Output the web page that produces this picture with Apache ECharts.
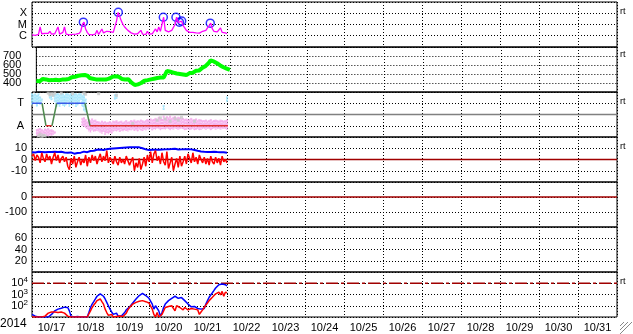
<!DOCTYPE html>
<html><head><meta charset="utf-8">
<script src="https://cdn.jsdelivr.net/npm/echarts/dist/echarts.min.js"></script>
<style>html,body{margin:0;padding:0;background:#fff}#c{width:633px;height:334px}</style>
</head><body><div id="c"></div><script>
// ---- data (hourly from 2014-10-17 00:00 UT) ----
const dateLabels = ['10/17','10/18','10/19','10/20','10/21','10/22','10/23','10/24','10/25','10/26','10/27','10/28','10/29','10/30','10/31'];
const yearLabel = '2014';
const xrayFlux = [1.2e-6,1.3e-6,1.1e-6,1.4e-6,1.3e-6,6e-6,1.5e-6,1.3e-6,1.6e-6,1.4e-6,
 1.6e-6,2.5e-6,1.4e-6,1.3e-6,1.5e-6,1.3e-6,6e-6,1.4e-6,1.5e-6,2e-6,
 6e-6,1.4e-6,1.3e-6,1.2e-6,1.4e-6,1.3e-6,1.5e-6,1.4e-6,1.3e-6,1.6e-6,
 2.5e-6,1e-5,1.6e-5,4e-6,2e-6,1.3e-6,1.1e-6,1.2e-6,1.1e-6,1.4e-6,
 3e-6,1.3e-6,1.5e-6,4e-6,1.8e-6,2.2e-6,2.5e-6,2e-6,2.3e-6,1.8e-6,
 2e-6,3e-6,2e-5,1.2e-4,5e-5,2e-5,1e-5,6e-6,4e-6,3e-6,
 2.2e-6,1.8e-6,1.5e-6,1.4e-6,1.3e-6,1.5e-6,1.3e-6,3e-6,1.4e-6,1.5e-6,
 1.3e-6,2.5e-6,1.4e-6,1.6e-6,1.5e-6,2e-6,4e-6,2.2e-6,6e-6,2.5e-6,
 2.8e-6,4.4e-5,3e-6,2.5e-6,2.2e-6,2.5e-6,3e-6,4e-6,1e-5,4.4e-5,
 1.5e-5,1.6e-5,2e-5,8e-6,5e-6,3e-6,2.5e-6,2e-6,1.8e-6,2e-6,
 1.6e-6,1.8e-6,2.2e-6,1.7e-6,2e-6,2.5e-6,2.2e-6,3e-6,5e-6,8e-6,
 1.3e-5,4e-6,2.5e-6,2e-6,2.2e-6,1.8e-6,5e-6,2e-6,1.6e-6,1.8e-6,
 1.5e-6];
const flareHours = [31.6, 53.1, 80.8, 88.6, 90.7, 92.1, 109.7];
const flarePeaks = [1.6e-5, 1.2e-4, 4.4e-5, 4.4e-5, 1.6e-5, 2.0e-5, 1.3e-5];
const windSpeed = [425,440,418,432,445,428,440,436,430,445,
 432,440,436,444,430,442,438,450,440,455,
 445,452,465,458,470,462,480,468,485,472,
 490,470,478,455,460,448,445,440,448,438,
 443,440,445,438,450,448,455,468,462,475,
 458,470,452,445,448,440,450,442,430,405,
 390,378,372,385,380,400,415,425,420,432,
 428,440,435,448,442,455,450,460,455,462,
 470,535,540,525,528,515,520,505,512,500,
 508,495,505,488,500,510,520,515,528,535,
 545,540,555,570,575,590,610,625,650,670,
 640,655,620,600,595,585,575,565,560,555,
 545];
// IMF sector: 1 = T (toward), -1 = A (away)
const sectorHours = [0, 6.2, 8.6, 12.3, 15.2, 32.6, 35.7, 120.6];
const sectorVals  = [1, 1, -1, -1, 1, 1, -1, -1];
const tCloudHours = [0,1,2,3,4,5,6,11,12,13,14,15,16,17,18,19,20,21,22,23,24,25,26,27,28,29,30,31,32,33,51,52,81,120];
const tCloudHi = [1.88,1.79,1.88,1.73,1.88,1.6,1.42,1.88,1.73,1.88,1.79,1.88,1.88,1.79,1.88,1.88,1.73,1.88,1.88,1.79,1.88,1.73,1.88,1.88,1.79,1.88,1.88,1.73,1.88,1.42,1.8,1.85,0.85,1.6];
const tCloudLo = [0.82,0.97,1.12,0.67,0.97,0.88,1.12,1.42,1.27,1.58,1.12,0.67,0.82,0.67,0.97,0.76,0.67,0.82,1.12,0.67,0.97,0.82,1.12,0.67,0.82,0.97,1.27,0.67,0.3,0.2,1.3,1.4,0.4,1.1];
const aCloudHours = [3,4,5,6,7,8,9,10,11,12,13,14,31,32,33,34,
 35,36,37,38,39,40,41,42,43,44,45,46,47,48,49,50,51,52,53,54,55,56,57,58,59,60,
 61,62,63,64,65,66,67,68,69,70,71,72,73,74,75,76,77,78,79,80,81,82,83,84,85,86,87,88,89,90,
 91,92,93,94,95,96,97,98,99,100,101,102,103,104,105,106,107,108,109,110,111,112,113,114,115,116,117,118,119,120];
const aCloudHi = [-1.3,-1.25,-1.2,-1.3,-1.4,-1.25,-1.3,-1.2,-1.35,-1.3,-1.4,-1.5,-0.3,-0.25,-0.4,-0.6,
 -0.4,-0.5,-0.35,-0.5,-0.45,-0.6,
 -0.6,-0.7,-0.55,-0.65,-0.6,-0.7,-0.65,-0.6,-0.7,-0.55,
 -0.6,-0.5,-0.65,-0.6,-0.55,-0.7,-0.6,-0.5,-0.65,-0.6,
 -0.5,-0.55,-0.45,-0.6,-0.5,-0.55,-0.45,-0.5,-0.6,-0.5,
 -0.4,-0.5,-0.35,-0.45,-0.4,-0.3,-0.45,-0.2,-0.35,-0.4,
 -0.1,-0.3,-0.15,-0.25,-0.1,-0.3,-0.2,-0.15,-0.3,-0.2,-0.25,-0.35,-0.3,
 -0.4,-0.35,-0.45,-0.4,-0.3,-0.45,-0.4,-0.35,-0.5,-0.4,-0.45,-0.5,
 -0.5,-0.45,-0.55,-0.5,-0.4,-0.55,-0.5,-0.45,-0.5,-0.55,-0.45,-0.5,-0.55,-0.5,-0.45];
const aCloudLo = [-1.9,-1.95,-1.85,-1.9,-1.95,-1.8,-1.9,-1.95,-1.85,-1.9,-1.8,-1.7,-1.0,-1.1,-1.2,-1.3,
 -1.5,-1.6,-1.4,-1.55,-1.5,-1.45,
 -1.5,-1.6,-1.7,-1.55,-1.8,-1.65,-1.75,-1.6,-1.7,-1.5,
 -1.45,-1.5,-1.4,-1.55,-1.45,-1.5,-1.4,-1.45,-1.5,-1.4,
 -1.4,-1.35,-1.45,-1.4,-1.5,-1.35,-1.4,-1.45,-1.35,-1.4,
 -1.3,-1.35,-1.25,-1.4,-1.3,-1.35,-1.25,-1.3,-1.4,-1.3,
 -1.3,-1.35,-1.25,-1.3,-1.4,-1.3,-1.35,-1.25,-1.3,-1.35,-1.3,-1.25,-1.3,
 -1.4,-1.35,-1.3,-1.4,-1.35,-1.3,-1.4,-1.35,-1.3,-1.4,-1.35,-1.3,
 -1.3,-1.35,-1.25,-1.3,-1.4,-1.3,-1.25,-1.35,-1.3,-1.25,-1.35,-1.3,-1.25,-1.3,-1.35];
const grayHours = [4,5,6,7,8,10,11,12,13,14,18,25,32,33,41,52,62,77,79,82,85,88,90,92,100];
const grayVals  = [-1.9,-1.75,-1.95,-1.85,-1.9,1.9,1.75,1.85,1.7,1.9,1.9,1.85,1.9,1.8,1.85,1.7,-0.8,-0.5,-0.3,-0.4,-0.6,-0.35,-0.5,-0.25,-0.6];
const imfBt = [6.5,6.8,6.3,6.6,6.9,6.4,6.7,6.2,6.5,6.8,6.6,6.3,6.7,6.5,6.9,6.4,6.6,6.2,6.8,6.5,
 6.2,5.8,6.0,5.5,6.3,5.7,5.2,6.0,5.8,6.4,6.1,6.6,7.0,6.8,6.5,
 7.2,7.6,8.0,7.8,8.3,8.6,8.2,8.8,9.0,8.5,8.9,9.2,9.0,9.5,
 9.3,9.8,9.6,10.0,9.7,10.2,9.9,10.4,10.1,10.6,10.3,10.8,
 10.5,11.0,10.7,10.9,11.2,10.8,10.4,10.0,9.5,9.0,
 8.8,8.5,8.9,8.6,8.2,8.7,9.0,8.6,9.1,8.8,9.3,
 9.0,9.4,9.2,9.6,9.3,9.0,9.5,9.2,8.9,9.3,9.0,8.8,
 9.1,8.9,9.2,8.8,9.0,8.6,8.4,8.0,7.7,7.5,7.2,7.0,
 6.8,7.0,6.6,6.9,6.7,6.5,6.8,6.4,6.6,6.3,6.5,6.2,6.4,6.1,6.0];
const imfBz = [3,5,-1,4,2,-3,6,1,-2,5,0,3,-4,2,6,-1,4,-3,1,3,
 -2,2,-6,-9,1,-4,3,-7,-2,2,-5,0,-3,4,-6,
 2,-3,4,-1,3,-4,1,5,-2,3,-1,8,-3,2,
 1,-4,3,-2,-5,2,-3,0,-4,3,-1,-5,
 -6,2,-10,-3,-7,1,-9,-4,2,-6,
 4,-2,7,-3,5,8,-1,3,-4,6,-2,
 -5,7,-8,-3,2,-10,-4,1,-7,3,-6,-2,
 3,-4,5,1,-3,6,-2,2,-4,4,0,-3,
 2,-4,1,-5,3,-2,-4,2,-3,1,-5,3,-2,0,-3];
const fluxHigh = [17,15,12,11,10,10,10,10,10,10,
 10,12,17,25,35,43,50,57,60,70,
 75,75,70,35,12,10,10,10,11,10,
 10,11,10,10,10,25,70,140,230,400,
 700,930,1150,930,700,400,200,100,50,28,
 17,14,22,12,17,12,14,25,43,57,
 75,115,175,265,400,570,810,1070,1230,1070,
 810,570,460,350,140,50,100,140,35,12,
 25,70,140,200,285,350,460,570,700,570,
 460,400,530,400,285,200,140,100,80,100,
 87,75,57,70,50,43,57,140,285,570,
 810,1430,2300,3800,5700,7500,8100,8700,6600,7500,
 5700];
const fluxLow = [10,10,10,10,10,10,10,10,12,17,
 22,25,28,25,28,32,25,35,28,25,
 22,17,12,10,10,10,10,10,10,10,
 10,10,10,10,10,14,35,70,115,175,
 285,350,400,230,140,50,25,14,11,17,
 10,12,11,10,12,10,11,12,22,43,
 70,100,140,175,200,230,250,265,285,265,
 230,200,175,140,50,17,10,25,10,12,
 17,35,70,100,87,115,100,140,35,100,
 115,70,100,43,70,57,43,50,57,43,
 50,35,43,17,28,43,70,115,175,285,
 400,570,810,1150,1430,1600,930,1900,700,1600,
 1430];
const fluxAlert = 10000;
const refZero = 0;

// ---- layout ----
const FONT = '"Liberation Sans", Arial, sans-serif';
const PANELS = 7, LEFT = 32, WIDTH = 585, TOP = 2, PH = 45;
const hourly = arr => arr.map((v, i) => [i, v]);
const dot = {color:'#000', type:[1,2], width:1};

const grids = [], xAxes = [], yAxes = [];
for (let i = 0; i < PANELS; i++) {
  grids.push({left: LEFT, width: WIDTH, top: TOP + PH * i, height: PH, show: true, borderColor: '#000', borderWidth: 1, backgroundColor: 'transparent'});
  xAxes.push({gridIndex: i, type: 'value', min: 0, max: 360, interval: 24,
    axisLine: {show: false}, axisTick: {show: false}, axisLabel: {show: false},
    splitLine: {show: true, lineStyle: dot}});
}
xAxes.push({gridIndex: 6, type: 'category', data: dateLabels, boundaryGap: true, position: 'bottom',
  axisLine: {show: false}, axisTick: {show: false}, splitLine: {show: false},
  axisLabel: {interval: 0, color: '#000', fontSize: 11, fontFamily: FONT, margin: 5}});

const yBase = (i, extra) => Object.assign({gridIndex: i, axisLine: {show: false}, axisTick: {show: false},
  splitLine: {show: true, lineStyle: dot}}, extra);
const lbl = (fmt, margin) => ({color: '#000', fontSize: 11, fontFamily: FONT, margin: margin || 5, formatter: fmt, showMinLabel: true, showMaxLabel: true});
const exp10 = v => Math.round(Math.log10(v));

yAxes.push(yBase(0, {type: 'log', logBase: 10, min: 1e-7, max: 1e-3,
  axisLabel: lbl(v => ({'-4': 'X', '-5': 'M', '-6': 'C'})[exp10(v)] || '')}));
yAxes.push(yBase(1, {type: 'value', min: 300, max: 800, interval: 100,
  axisLabel: lbl(v => (v >= 400 && v <= 700) ? String(v) : '', 15)}));
yAxes.push(yBase(2, {type: 'value', min: -2, max: 2, interval: 1,
  axisLabel: lbl(v => v === 1 ? 'T' : (v === -1 ? 'A' : ''), 8)}));
yAxes.push(yBase(3, {type: 'value', min: -20, max: 20, interval: 10,
  axisLabel: lbl(v => Math.abs(v) <= 10 ? String(v) : '')}));
yAxes.push(yBase(4, {type: 'value', min: -200, max: 100, interval: 100,
  axisLabel: lbl(v => (v === 0 || v === -100) ? String(v) : '')}));
yAxes.push(yBase(5, {type: 'value', min: 0, max: 80, interval: 20,
  axisLabel: lbl(v => (v >= 20 && v <= 60) ? String(v) : '')}));
yAxes.push(yBase(6, {type: 'log', logBase: 10, min: 10, max: 1e5,
  axisLabel: Object.assign(lbl(v => { const e = exp10(v); return (e >= 2 && e <= 4) ? '10{s|' + e + '}' : ''; }, 4),
    {lineHeight: 14, rich: {s: {fontSize: 8, fontFamily: FONT, color: '#000', verticalAlign: 'top', lineHeight: 14, padding: [0,0,5,0]}}})}));

const series = [];
const line = (gi, data, color, width, extra) => Object.assign({type: 'line', xAxisIndex: gi, yAxisIndex: gi, data,
  symbol: 'none', showSymbol: false, animation: false, silent: true,
  lineStyle: {color, width}, itemStyle: {color}}, extra || {});

// panel 1: X-ray
series.push(line(0, hourly(xrayFlux), '#ff00ff', 1.3));
series.push({type: 'scatter', xAxisIndex: 0, yAxisIndex: 0, data: flareHours.map((h, i) => [h, flarePeaks[i]]),
  symbol: 'circle', symbolSize: 8, animation: false, silent: true,
  itemStyle: {color: 'rgba(0,0,0,0)', borderColor: '#0000ff', borderWidth: 1.5}});
// panel 2: speed
series.push(line(1, hourly(windSpeed), '#00ff00', 4));
// panel 3: sector
const cloud = (hours, hi, lo, color) => ({type: 'custom', xAxisIndex: 2, yAxisIndex: 2, animation: false, silent: true,
  data: hours.map((h, i) => [h, hi[i], lo[i]]), encode: {x: 0, y: [1, 2]},
  renderItem: (params, api) => {
    const h = api.value(0);
    const children = [];
    [-0.3, 0, 0.3].forEach((off, k) => {
      const a = api.coord([h + off, api.value(1)]), b = api.coord([h + off, api.value(2)]);
      children.push({type: 'line', shape: {x1: a[0], y1: a[1] + (k % 2), x2: b[0], y2: b[1]},
        style: {stroke: color, lineWidth: 1, lineDash: [2, 1]}});
    });
    return {type: 'group', children};
  }});
series.push(cloud(tCloudHours, tCloudHi, tCloudLo, '#a6e6fc'));
series.push(cloud(aCloudHours, aCloudHi, aCloudLo, '#f5aeec'));
series.push({type: 'scatter', xAxisIndex: 2, yAxisIndex: 2, data: grayHours.map((h, i) => [h, grayVals[i]]),
  symbol: 'rect', symbolSize: 3, animation: false, silent: true, itemStyle: {color: '#c8c8c8'}});
series.push(line(2, [[0, refZero], [360, refZero]], '#808080', 1.5));
for (let k = 0; k < sectorHours.length - 1; k++) {
  const a = sectorVals[k], b = sectorVals[k + 1];
  const c = (a === 1 && b === 1) ? '#3a5ce8' : ((a === -1 && b === -1) ? '#e03030' : '#4e8a4e');
  series.push(line(2, [[sectorHours[k], a], [sectorHours[k + 1], b]], c, 1.5));
}
// panel 4: IMF
series.push(line(3, [[0, refZero], [360, refZero]], '#a00000', 1.5));
series.push(line(3, hourly(imfBt), '#0000ff', 2));
series.push(line(3, hourly(imfBz), '#ff0000', 1.5));
// panel 5
series.push(line(4, [[0, refZero], [360, refZero]], '#a00000', 1.5));
// panel 7: particle flux
series.push(line(6, [[0, fluxAlert], [360, fluxAlert]], '#a00000', 1.5, {lineStyle: {color: '#a00000', width: 1.5, type: [12, 3, 3, 3]}}));
series.push(line(6, hourly(fluxHigh), '#0000ff', 1.5));
series.push(line(6, hourly(fluxLow), '#ff0000', 1.5));

const rtY = [13, 56, 103, 148, 283];
const graphic = [{type: 'text', left: 0, top: 318, style: {text: yearLabel, fill: '#000', font: '12px ' + FONT}}]
  .concat(rtY.map(y => ({type: 'text', left: 620, top: y - 6, style: {text: 'rt', fill: '#000', font: '9px ' + FONT}})))
  .concat([0, 4, 8].map(d => ({type: 'line', shape: {x1: 632 - d, y1: 322, x2: 620, y2: 334 - d}, style: {stroke: '#888', lineWidth: 1}})));

const chart = echarts.init(document.getElementById('c'), null, {renderer: 'canvas'});
chart.setOption({animation: false, backgroundColor: '#fff', grid: grids, xAxis: xAxes, yAxis: yAxes, series, graphic});
</script></body></html>
